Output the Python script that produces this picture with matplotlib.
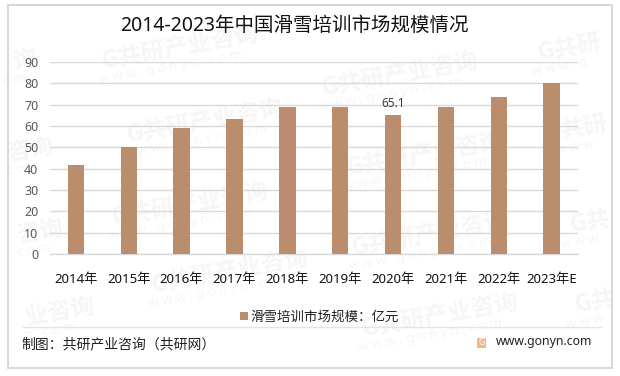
import matplotlib
matplotlib.use("Agg")
import matplotlib.pyplot as plt
from matplotlib.patches import Rectangle
from matplotlib.lines import Line2D

plt.rcParams['font.family'] = ['Noto Sans', 'Noto Sans CJK SC', 'DejaVu Sans']

#%% data
years = ['2014年', '2015年', '2016年', '2017年', '2018年', '2019年', '2020年', '2021年', '2022年', '2023年E']
market_size = [41.7, 50.2, 59.0, 63.2, 68.8, 68.8, 65.1, 68.8, 73.5, 80.0]
y_ticks = [0, 10, 20, 30, 40, 50, 60, 70, 80, 90]
labelled = {'2020年': '65.1'}

title = '2014-2023年中国滑雪培训市场规模情况'
series_name = '滑雪培训市场规模：亿元'
credit = '制图：共研产业咨询（共研网）'
site = 'www.gonyn.com'
stamp_cn = 'G共研产业咨询'
stamp_en = 'w w w . g o n y n . c o m'

W, H = 620, 376
bar_color = '#BA8E6C'
grid_color = '#D9D9D9'
mark_color = '#F6F6F6'

fig = plt.figure(figsize=(W / 100, H / 100), dpi=100)
fig.patch.set_facecolor('white')

def px(x, y):
    # pixel position, measured from the top left, to figure fraction
    return x / W, 1 - y / H

#%% watermark
stamps = [(180, 48, stamp_cn, stamp_en), (24, 60, '询', 'o m'), (205, 122, stamp_cn, stamp_en),
          (30, 150, '咨询', '. c o m'), (400, 75, stamp_cn, stamp_en), (570, 48, 'G共研', 'w w w . g'),
          (425, 155, stamp_cn, stamp_en), (585, 128, '共研', 'w w w'), (190, 205, stamp_cn, stamp_en),
          (40, 232, '咨询', '. c o m'), (230, 272, stamp_cn, stamp_en), (60, 312, '业咨询', 'n . c o m'),
          (430, 235, stamp_cn, stamp_en), (590, 222, 'G共', 'w w w'), (440, 316, stamp_cn, stamp_en),
          (595, 302, 'G共', 'w w w')]
for sx, sy, cn, en in stamps:
    fx, fy = px(sx, sy)
    fig.text(fx, fy, cn, fontsize=17, fontweight='bold', color=mark_color, rotation=10,
             ha='center', va='center', zorder=-2, family=['Noto Sans CJK SC', 'DejaVu Sans'])
    fx, fy = px(sx - 10, sy + 19)
    fig.text(fx, fy, en, fontsize=9.5, color=mark_color, rotation=10,
             ha='center', va='center', zorder=-2)

#%% frame and footer
x0, y0 = px(7.5, 368)
fig.add_artist(Rectangle((x0, y0), 604.5 / W, 363 / H, transform=fig.transFigure,
                         fill=False, edgecolor='#D4D4D4', linewidth=1.3, zorder=5))
lx0, ly = px(23, 327)
lx1, _ = px(601, 327)
fig.add_artist(Line2D([lx0, lx1], [ly, ly], transform=fig.transFigure, color='#E4E4E4', linewidth=1))

#%% bars
ax = fig.add_axes([49.5 / W, 1 - 254 / H, 528.5 / W, 192 / H])
ax.patch.set_visible(False)
pos = list(range(len(years)))
ax.bar(pos, market_size, width=0.31, color=bar_color, zorder=3)
for p, year, v in zip(pos, years, market_size):
    if year in labelled:
        ax.text(p, v + 2.2, labelled[year], ha='center', va='bottom', fontsize=8.5,
                color='#404040', zorder=4)

ax.set_xlim(-0.5, len(years) - 0.5)
ax.set_ylim(0, 90)
ax.set_yticks(y_ticks)
ax.set_xticks(pos)
ax.set_xticklabels(years, fontsize=9.5, color='#111111')
ax.tick_params(axis='x', length=0, pad=14)
ax.tick_params(axis='y', length=0, pad=8, labelsize=9, labelcolor='#595959')
ax.grid(axis='y', color=grid_color, linewidth=1, zorder=1)
for s in ['top', 'right', 'left']:
    ax.spines[s].set_visible(False)
ax.spines['bottom'].set_color(grid_color)
ax.spines['bottom'].set_linewidth(1)

#%% texts
fx, fy = px(294, 25.5)
fig.text(fx, fy, title, fontsize=14, color='#111111', ha='center', va='center')

# legend
lgx, lgy = px(240, 320)
fig.add_artist(Rectangle((lgx, lgy), 8 / W, 8 / H, transform=fig.transFigure,
                         facecolor=bar_color, edgecolor='none'))
fx, fy = px(250, 317)
fig.text(fx, fy, series_name, fontsize=9.7, color='#222222', ha='left', va='center')

fx, fy = px(21, 345)
fig.text(fx, fy, credit, fontsize=10, color='#222222', ha='left', va='center')

# small orange logo next to the site address
lgx, lgy = px(477, 347.5)
fig.add_artist(Rectangle((lgx, lgy), 9 / W, 10 / H, transform=fig.transFigure,
                         facecolor='#F5B58A', edgecolor='none'))
fx, fy = px(481.5, 342.5)
fig.text(fx, fy, 'G', fontsize=6, fontweight='bold', color='white', ha='center', va='center')

fx, fy = px(496, 342)
fig.text(fx, fy, site, fontsize=8.85, color='#222222', ha='left', va='center')

fig.savefig('out.png', dpi=100)
